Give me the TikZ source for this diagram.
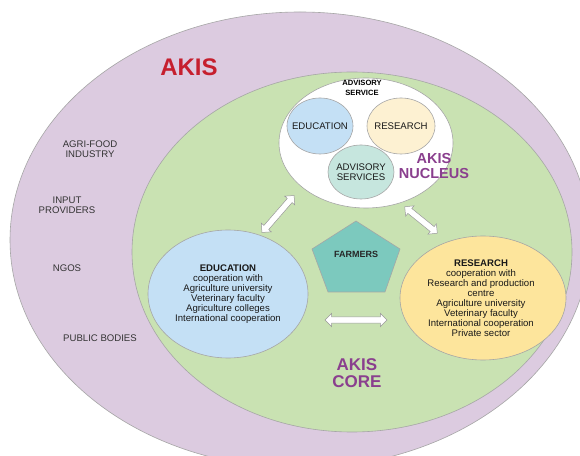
\documentclass[tikz,border=0pt]{standalone}
\usepackage{fontspec}
\setmainfont{Liberation Sans}
\usetikzlibrary{shapes.arrows}
\definecolor{akisout}{HTML}{DCCBE0}
\definecolor{akiscore}{HTML}{C9E2B2}
\definecolor{edublue}{HTML}{C4E0F5}
\definecolor{resyellow}{HTML}{FDE59C}
\definecolor{smallcream}{HTML}{FDF1D2}
\definecolor{smallteal}{HTML}{C6E6DE}
\definecolor{farmteal}{HTML}{7CC9BE}
\definecolor{akispurple}{HTML}{8A3F8E}
\definecolor{akisred}{HTML}{C61F2E}
\begin{document}
\begin{tikzpicture}[x=1pt,y=1pt,
  lbl/.style={align=center,text=black!80,font=\fontsize{9.6}{10.5}\selectfont},
  txt/.style={align=center,text=black!90,font=\fontsize{9.6}{10}\selectfont},
  bigword/.style={align=center,text=akispurple,font=\bfseries\fontsize{#1}{#1}\selectfont},
  rim/.style={draw=black!35,line width=0.6pt},
  twoway/.style={double arrow,draw=black!40,fill=white,line width=0.5pt,
    minimum height=#1,minimum width=13pt,inner sep=2.9pt,double arrow head extend=3.5pt}]
  \useasboundingbox (0,0) rectangle (580,455);
  \clip (0,0) rectangle (580,455);
  \fill[white] (0,0) rectangle (580,455);
  % rings
  \draw[rim,fill=akisout] (300,215) ellipse (290 and 228);
  \draw[rim,fill=akiscore] (352,203) ellipse (220 and 180);
  \draw[rim,fill=white] (366,312) ellipse (87 and 65);
  % nucleus
  \draw[rim,fill=edublue] (320,329) ellipse (33 and 28);
  \draw[rim,fill=smallcream] (401,329) ellipse (34 and 28);
  \draw[rim,fill=smallteal] (361,283) ellipse (33 and 27);
  \node[txt] (nedu) at (320,329) {EDUCATION};
  \node[txt] (nres) at (401,329) {RESEARCH};
  \node[txt] (nadv) at (361,283) {ADVISORY\\SERVICES};
  \node[align=center,font=\bfseries\fontsize{7.6}{10}\selectfont] (advhead) at (362,367) {ADVISORY\\SERVICE};
  \node[bigword=14.5] (nucleus) at (434,289) {AKIS\\NUCLEUS};
  % core
  \draw[rim,fill=edublue] (228,161) ellipse (80 and 64);
  \draw[rim,fill=resyellow] (483,157) ellipse (83 and 62);
  \node[txt] (edu) at (228,161) {\textbf{EDUCATION}\\cooperation with\\Agriculture university\\Veterinary faculty\\Agriculture colleges\\International cooperation};
  \node[txt] (res) at (481,157) {\textbf{RESEARCH}\\cooperation with\\Research and production\\centre\\Agriculture university\\Veterinary faculty\\International cooperation\\Private sector};
  \draw[rim,fill=farmteal] (356,234) -- (400,206) -- (385,163) -- (328,163) -- (312,206) -- cycle;
  \node[font=\bfseries\fontsize{9}{10}\selectfont,text=black!85] (farmers) at (356,201) {FARMERS};
  \node[bigword=17] (core) at (357,82) {AKIS\\CORE};
  % links
  \node[twoway=62pt] (edures) at (356,135) {};
  \node[twoway=49pt,rotate=49] (edunuc) at (278,241) {};
  \node[twoway=42pt,rotate=-39] (resnuc) at (421,235) {};
  % outer ring
  \node[font=\bfseries\fontsize{24}{24}\selectfont,text=akisred] (akis) at (189,388) {AKIS};
  \node[lbl] (agri) at (90,306) {AGRI-FOOD\\INDUSTRY};
  \node[lbl] (input) at (67,250) {INPUT\\PROVIDERS};
  \node[lbl] (ngos) at (67,187) {NGOS};
  \node[lbl] (public) at (100,117) {PUBLIC BODIES};
\end{tikzpicture}
\end{document}
